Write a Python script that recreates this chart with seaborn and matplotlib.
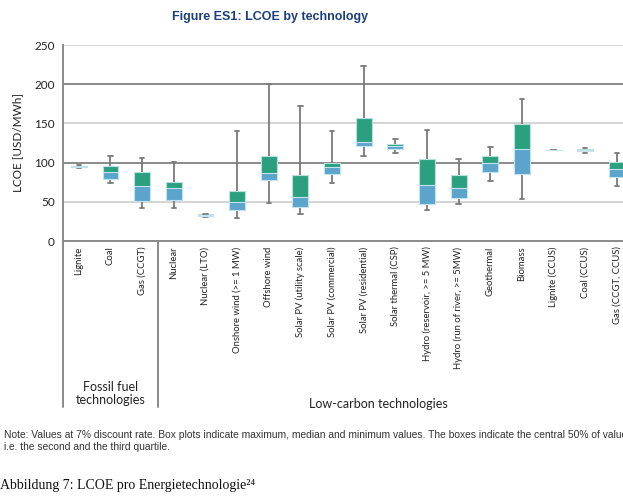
import matplotlib
matplotlib.use("Agg")
import matplotlib.pyplot as plt
import matplotlib.transforms as mtransforms
import numpy as np
import pandas as pd
import seaborn as sns

categories = ["Lignite", "Coal", "Gas (CCGT)", "Nuclear", "Nuclear (LTO)",
              "Onshore wind (>= 1 MW)", "Offshore wind", "Solar PV (utility scale)",
              "Solar PV (commercial)", "Solar PV (residential)", "Solar thermal (CSP)",
              "Hydro (reservoir, >= 5 MW)", "Hydro (run of river, >= 5MW)", "Geothermal",
              "Biomass", "Lignite (CCUS)", "Coal (CCUS)", "Gas (CCGT, CCUS)"]
mins = [93, 74, 42, 42, 30, 29, 48, 34, 74, 108, 112, 39, 47, 77, 53, 116, 112, 70]
q1s = [94, 79, 51, 52, 32, 40, 78, 43, 86, 121, 117, 47, 55, 88, 86, 116, 115, 81]
meds = [95, 88, 70, 68, 33, 50, 87, 56, 94, 126, 121, 71, 67, 99, 117, 116, 116, 92]
q3s = [96, 96, 88, 75, 34, 64, 108, 84, 99, 157, 124, 105, 84, 108, 149, 116, 117, 101]
maxs = [97, 109, 106, 101, 35, 140, 200, 172, 140, 223, 130, 142, 104, 120, 181, 116, 119, 112]
yticks = [0, 50, 100, 150, 200, 250]

green = "#2ba07f"
blue = "#5ba4cc"

# five points per category -> seaborn quartiles land exactly on q1/median/q3
rows = []
for c, a, b, m, d, e in zip(categories, mins, q1s, meds, q3s, maxs):
    for v in (a, b, m, d, e):
        rows.append({"tech": c, "lcoe": v})
df = pd.DataFrame(rows)

sns.set_style("white")
plt.rcParams["font.family"] = ["Lato", "DejaVu Sans"]

fig = plt.figure(figsize=(6.23, 5), dpi=100)
ax = fig.add_axes([0.1011, 0.518, 0.9145, 0.392])

for t in yticks:
    dark = t in (100, 200)
    ax.axhline(t, color="#8a8a8a" if dark else "#d4d4d4", lw=1.4, zorder=0)

sns.boxplot(data=df, x="tech", y="lcoe", order=categories, ax=ax, whis=np.inf,
            width=0.5, color=green, linecolor="#7a7a7a", linewidth=1.3,
            capwidths=0.14, saturation=1,
            boxprops=dict(facecolor=green, edgecolor="#b9e0dc", linewidth=0.8),
            medianprops=dict(linewidth=0))
ax.bar(np.arange(len(categories)), np.array(meds) - np.array(q1s), bottom=q1s,
       width=0.5, color=blue, edgecolor="#c3e3ee", linewidth=0.8, zorder=3)

ax.set_xlim(-0.5, len(categories) - 0.5)
ax.set_ylim(0, 250)
ax.set_yticks(yticks)
ax.tick_params(axis="both", length=0)
ax.tick_params(axis="y", labelsize=8.5, pad=6, colors="#222222")
ax.set_xticks(range(len(categories)))
ax.set_xticklabels(categories, rotation=90, fontsize=6.8, color="#222222")
ax.tick_params(axis="x", pad=4)
ax.set_xlabel("")
ax.set_ylabel("LCOE [USD/MWh]", fontsize=8.5, color="#222222", labelpad=8)
for s in ("top", "right"):
    ax.spines[s].set_visible(False)
for s in ("left", "bottom"):
    ax.spines[s].set_color("#8a8a8a")
    ax.spines[s].set_linewidth(1.4)

# group separators below the axis
trans = mtransforms.blended_transform_factory(ax.transData, ax.transAxes)
for xs in (-0.5, 2.5):
    ax.plot([xs, xs], [0, -0.847], transform=trans, color="#8a8a8a", lw=1.4,
            clip_on=False)
ax.text(1, -0.78, "Fossil fuel\ntechnologies", transform=trans, ha="center",
        va="center", fontsize=9, linespacing=1.1, color="#222222")
ax.text(9.45, -0.83, "Low-carbon technologies", transform=trans, ha="center",
        va="center", fontsize=9, color="#222222")

fig.text(0.434, 0.966, "Figure ES1: LCOE by technology", ha="center", va="center",
         fontsize=9, fontweight="bold", color="#1c3f7a",
         family=["Liberation Sans Narrow", "Liberation Sans", "DejaVu Sans"])
fig.text(0.007, 0.13, "Note: Values at 7% discount rate. Box plots indicate maximum, "
         "median and minimum values. The boxes indicate the central 50% of values,",
         ha="left", va="center", fontsize=7.4, color="#333333",
         family=["Liberation Sans", "DejaVu Sans"])
fig.text(0.007, 0.106, "i.e. the second and the third quartile.", ha="left",
         va="center", fontsize=7.4, color="#333333",
         family=["Liberation Sans", "DejaVu Sans"])
fig.text(0.0, 0.03, "Abbildung 7: LCOE pro Energietechnologie²⁴", ha="left",
         va="center", fontsize=10, color="#111111",
         family=["Liberation Serif", "DejaVu Serif"])

fig.savefig("out.png", dpi=100)
